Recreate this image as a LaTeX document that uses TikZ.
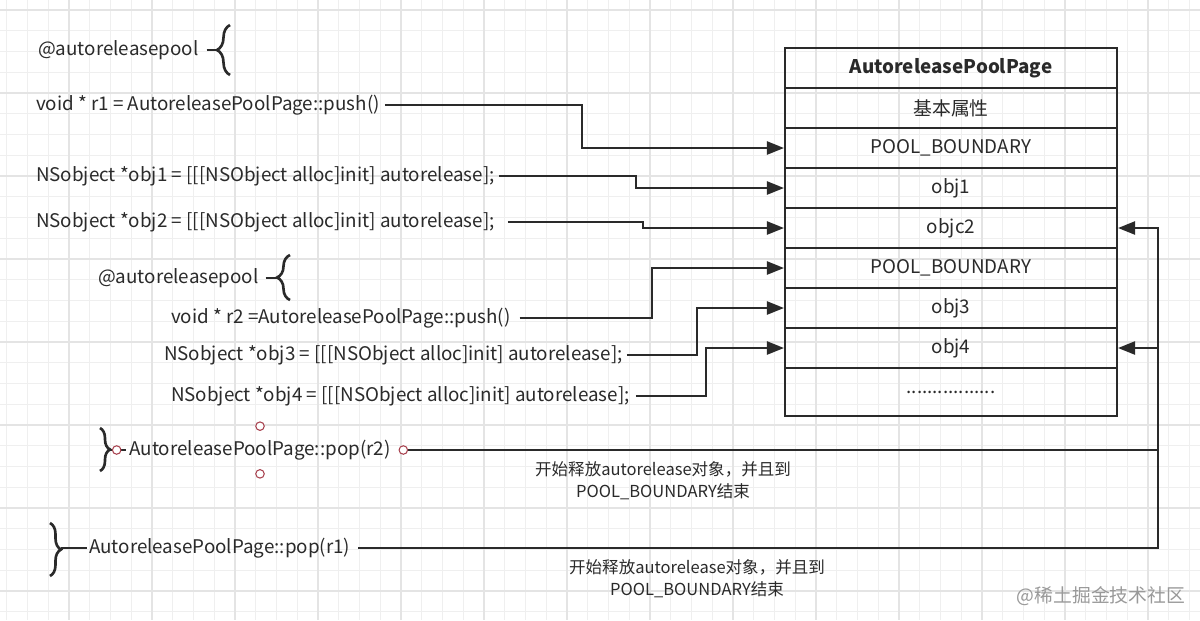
\documentclass[tikz,border=0pt]{standalone}
\usepackage{fontspec}
\setmainfont{Noto Sans CJK SC}
\usetikzlibrary{arrows.meta,decorations.pathreplacing}
\definecolor{ink}{HTML}{2A2A2A}
\definecolor{handlered}{HTML}{A8424F}
\definecolor{gridminor}{HTML}{EFEFEF}
\definecolor{gridmajor}{HTML}{E4E4E4}
\tikzset{
	code/.style={anchor=west,inner sep=1pt,text=ink,font=\fontsize{10.7}{12}\selectfont},
	row/.style={draw=ink,line width=1.2pt,minimum width=6.64cm,minimum height=0.8cm,inner sep=0pt,text=ink,font=\fontsize{10.7}{12}\selectfont},
	note/.style={align=center,inner sep=0pt,text=ink,font=\fontsize{9.4}{12.5}\selectfont},
	wire/.style={draw=ink,line width=1.3pt},
	conn/.style={wire,-{Triangle[length=0.34cm,width=0.26cm]}},
	curly/.style={wire,line width=1.5pt,decorate,decoration={brace,amplitude=#1}},
	handle/.style={circle,draw=handlered,fill=white,line width=0.6pt,minimum size=0.17cm,inner sep=0pt},
}
\begin{document}
\begin{tikzpicture}[x=0.02cm,y=-0.02cm]
	\useasboundingbox (0,0) rectangle (1200,620);
	\fill[white] (0,0) rectangle (1200,620);
	% grid paper
	\foreach \i in {0,...,57} \draw[gridminor,line width=0.5pt] (6.75+20.75*\i,0) -- ++(0,620);
	\foreach \j in {0,...,29} \draw[gridminor,line width=0.5pt] (0,10+20.75*\j) -- ++(1200,0);
	\foreach \i in {0,...,13} \draw[gridmajor,line width=0.6pt] (69+83*\i,0) -- ++(0,620);
	\foreach \j in {0,...,7} \draw[gridmajor,line width=0.6pt] (0,10+83*\j) -- ++(1200,0);
	% the page
	\foreach \n/\t [count=\k from 0] in {title/{\bfseries AutoreleasePoolPage},base/基本属性,pb1/POOL\_BOUNDARY,o1/obj1,o2/objc2,pb2/POOL\_BOUNDARY,o3/obj3,o4/obj4}
		\node[row] (\n) at (951,68+40*\k) {\t};
	\node[row,minimum height=0.96cm] (more) at (951,392) {.................};
	% code lines
	\node[code] (pool1) at (36,50) {@autoreleasepool};
	\node[code] (push1) at (34,105) {void * r1 = AutoreleasePoolPage::push()};
	\node[code] (new1) at (34,176) {NSobject *obj1 = [[[NSObject alloc]init] autorelease];};
	\node[code] (new2) at (34,222) {NSobject *obj2 = [[[NSObject alloc]init] autorelease];};
	\node[code] (pool2) at (96,278) {@autoreleasepool};
	\node[code] (push2) at (169,318) {void * r2 =AutoreleasePoolPage::push()};
	\node[code] (new3) at (162,355) {NSobject *obj3 = [[[NSObject alloc]init] autorelease];};
	\node[code] (new4) at (169,396) {NSobject *obj4 = [[[NSObject alloc]init] autorelease];};
	\node[code,anchor=center,minimum width=5.72cm,minimum height=0.94cm] (pop2) at (260,450) {AutoreleasePoolPage::pop(r2)};
	\node[code] (pop1) at (87,548) {AutoreleasePoolPage::pop(r1)};
	% braces
	\draw[curly=0.26cm] (230,75) -- (230,25);
	\draw[wire] ([xshift=0.12cm]pool1.east) -- (217,50);
	\draw[curly=0.26cm] (290,300) -- (290,255);
	\draw[wire] ([xshift=0.1cm]pool2.east) -- (277,278);
	\draw[curly=0.2cm] (100,428) -- (100,471);
	\draw[wire] (110,450) -- ++(16,0);
	\draw[curly=0.22cm] (50,523) -- (50,576);
	\draw[wire] (61,548) -- (pop1.west);
	% pushes
	\draw[conn] ([xshift=0.06cm]push1.east) -| (582,0 |- pb1.west) -- (pb1.west);
	\draw[conn] ([xshift=0.04cm]new1.east) -| (636,0 |- o1.west) -- (o1.west);
	\draw[conn] ([xshift=0.22cm]new2.east) -| (643,0 |- o2.west) -- (o2.west);
	\draw[conn] ([xshift=0.14cm]push2.east) -| (652,0 |- pb2.west) -- (pb2.west);
	\draw[conn] ([xshift=0.04cm]new3.east) -| (697,0 |- o3.west) -- (o3.west);
	\draw[conn] ([xshift=0.08cm]new4.east) -| (706,0 |- o4.west) -- (o4.west);
	% pops
	\draw[conn] ([xshift=0.12cm]pop1.east) -| (1158,0 |- o2.east) -- (o2.east);
	\draw[conn] ([xshift=0.08cm]pop2.east) -| (1158,0 |- o4.east) -- (o4.east);
	\foreach \a in {north,south,east,west} \node[handle] at (pop2.\a) {};
	\node[note] (rel2) at (663,481) {开始释放autorelease对象，并且到\\POOL\_BOUNDARY结束};
	\node[note] (rel1) at (697,579) {开始释放autorelease对象，并且到\\POOL\_BOUNDARY结束};
	\node[code,anchor=center,text=black!40] (mark) at (1101,596) {@稀土掘金技术社区};
\end{tikzpicture}
\end{document}
